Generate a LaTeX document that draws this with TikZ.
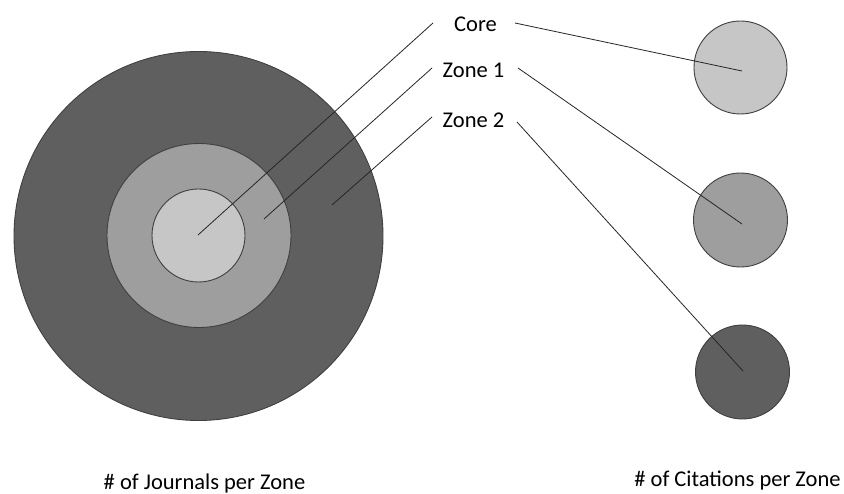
\documentclass[tikz,border=0pt]{standalone}
\usepackage{fontspec}
\setmainfont{Carlito}
\definecolor{zonecore}{HTML}{C6C6C6}
\definecolor{zoneone}{HTML}{9E9E9E}
\definecolor{zonetwo}{HTML}{5F5F5F}
\definecolor{rim}{HTML}{404040}
\begin{document}
\begin{tikzpicture}[x=1pt,y=-1pt,
  disc/.style={circle,draw=rim,line width=0.9pt,inner sep=0pt,minimum size=#1},
  lbl/.style={anchor=base,inner sep=0pt,font=\fontsize{22.5}{27}\selectfont},
  leader/.style={draw=black!85,line width=0.8pt}]
  \useasboundingbox[fill=white] (0,0) rectangle (844,494);

  % concentric zones (journals)
  \node[disc=369pt,fill=zonetwo]  (jz2) at (198.5,236) {};
  \node[disc=184pt,fill=zoneone]  (jz1) at (199,235.5) {};
  \node[disc=93pt,fill=zonecore]  (jcore) at (198.5,235.5) {};

  % separate discs (citations)
  \node[disc=93pt,fill=zonecore] (ccore) at (740.5,67.5) {};
  \node[disc=94pt,fill=zoneone]  (cz1) at (740.5,220) {};
  \node[disc=94pt,fill=zonetwo]  (cz2) at (742.5,372) {};

  % labels
  \node[lbl] (lcore) at (475.5,32) {Core};
  \node[lbl] (lz1) at (473.5,78) {Zone 1};
  \node[lbl] (lz2) at (473.5,128) {Zone 2};

  % leader line end points
  \coordinate (pcore) at (198,235);
  \coordinate (pz1) at (264,219);
  \coordinate (pz2) at (332,205);
  \coordinate (qcore) at (742,71);
  \coordinate (qz1) at (742,224);
  \coordinate (qz2) at (743,371);

  \coordinate (acore) at (433,23);
  \coordinate (az1) at (432,68);
  \coordinate (az2) at (432,117);
  \coordinate (bcore) at (515,23);
  \coordinate (bz1) at (518,68);
  \coordinate (bz2) at (517,122);

  \path[leader] (pcore) -- (acore);
  \path[leader] (pz1) -- (az1);
  \path[leader] (pz2) -- (az2);
  \path[leader] (bcore) -- (qcore);
  \path[leader] (bz1) -- (qz1);
  \path[leader] (bz2) -- (qz2);

  % captions
  \node[lbl] (capj) at (204.5,489) {\# of Journals per Zone};
  \node[lbl] (capc) at (737.5,486) {\# of Citations per Zone};
\end{tikzpicture}
\end{document}
